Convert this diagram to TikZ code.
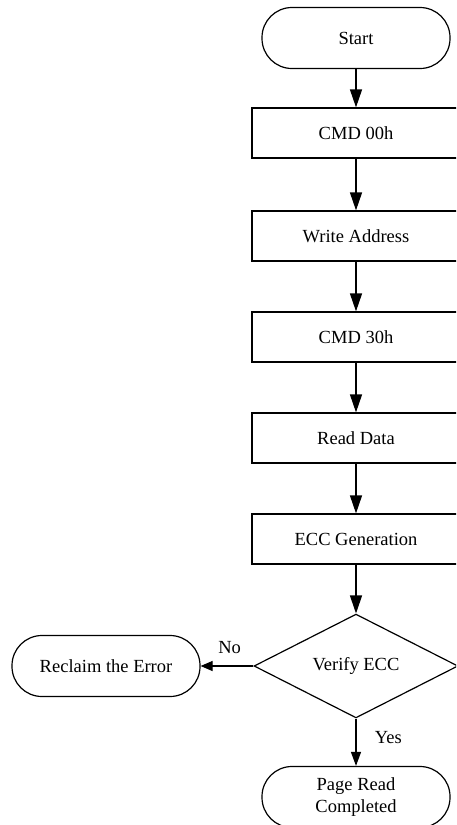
\documentclass[tikz,border=0pt]{standalone}
\usepackage{fontspec}
\setmainfont{Liberation Serif}
\usepackage{tikz}
\usetikzlibrary{arrows.meta, shapes.geometric, positioning}

\begin{document}
\begin{tikzpicture}[x=1pt, y=-1pt, on grid, line width=1.2pt, >={Triangle[length=18pt, width=12pt]},
    every node/.style={font=\fontsize{18.5}{22}\selectfont},
    terminal/.style={rectangle, rounded corners=30pt, draw, align=center, minimum width=188pt, minimum height=61pt, inner sep=0pt},
    process/.style={rectangle, draw, align=center, minimum width=208pt, minimum height=50pt, inner sep=0pt},
    decision/.style={diamond, draw, align=center, minimum width=204pt, minimum height=102pt, inner sep=0pt}]

        \useasboundingbox (0,0) rectangle (456,825);
        \clip (0,0) rectangle (456,825);

        \node[terminal] (Start) at (356,38) {Start};
        \node[process, below=95pt of Start] (Cmd00) {CMD 00h};
        \node[process, below=103pt of Cmd00] (Addr) {Write Address};
        \node[process, below=101pt of Addr] (Cmd30) {CMD 30h};
        \node[process, below=101pt of Cmd30] (Read) {Read Data};
        \node[process, below=101pt of Read] (Ecc) {ECC Generation};
        \node[decision, below=127pt of Ecc] (Verify) {Verify ECC};
        \node[terminal, below=131pt of Verify] (Done) {Page Read\\Completed};
        \node[terminal, left=250pt of Verify] (Reclaim) {Reclaim the Error};
        \path[->]
        (Start) edge (Cmd00)
        (Cmd00) edge (Addr)
        (Addr) edge (Cmd30)
        (Cmd30) edge (Read)
        (Read) edge (Ecc)
        (Ecc) edge (Verify)
        (Verify) edge[>={Triangle[length=14pt, width=10pt]}] node[right=15pt, pos=0.4] {Yes} (Done)
        (Verify) edge[>={Triangle[length=12pt, width=10pt]}] node[above=8pt, pos=0.45] {No} (Reclaim)
        ;

    \end{tikzpicture}
\end{document}
